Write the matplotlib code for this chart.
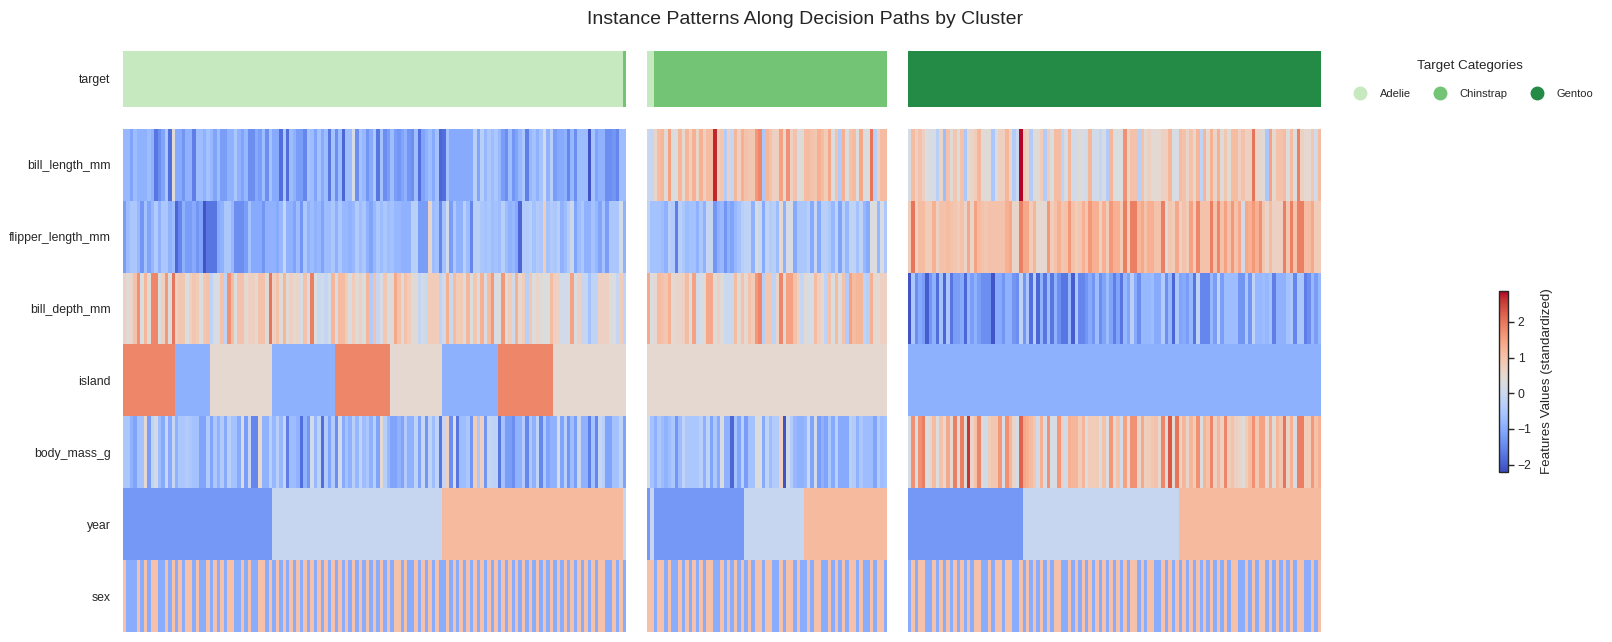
import matplotlib
matplotlib.use("Agg")
import numpy as np
import matplotlib.pyplot as plt
from matplotlib.colors import ListedColormap, Normalize
from matplotlib.cm import ScalarMappable
from matplotlib.lines import Line2D

plt.rcParams['font.family'] = ['Liberation Sans', 'DejaVu Sans']
plt.rcParams['text.color'] = '#262626'
plt.rcParams['axes.labelcolor'] = '#262626'
plt.rcParams['xtick.color'] = '#262626'
plt.rcParams['ytick.color'] = '#262626'

features = ['bill_length_mm', 'flipper_length_mm', 'bill_depth_mm', 'island',
            'body_mass_g', 'year', 'sex']
target_names = ['Adelie', 'Chinstrap', 'Gentoo']
target_colors = ['#c7e9c0', '#74c476', '#238b45']

# cluster 1
bill_length_c1 = [
    -.8, -.8, -1.1, -.7, -.9, -.9, -.9, -.7, -.9, -1.7,
    -1.4, -1.1, -.5, -1.8, .4, -1.0, -1.0, -1.3, -.9, -.9,
    -1.6, -.7, -.7, -.9, -.6, -.8, -1.1, -.7, -1.2, -1.2,
    -.9, -.9, -.5, -.9, -1.1, -.8, -1.4, -1.4, -1.0, -1.2,
    -.7, -1.4, -.6, -1.0, -1.0, -1.8, -.5, -1.8, -.7, -.9,
    -1.2, -1.2, -1.5, -.6, -.7, -1.1, -.6, -1.0, -.7, -1.7,
    -.6, -1.4, -.7, -1.9, -.7, -.7, .2, -1.4, -.6, -.8,
    -1.3, -1.0, -.5, -1.7, -.6, -1.4, -1.2, -.7, -1.2, -1.3,
    -1.1, -.9, -1.3, -1.4, -.7, -1.8, -1.1, -.9, -.7, -1.0,
    -.6, -1.9, -1.8, -.6, -1.0, -1.0, -1.0, -1.0, -1.0, -1.0,
    -1.0, -.3, -1.1, -.3, -.8, -.5, -.7, -.5, -.8, -1.2,
    -1.4, -.7, -1.3, -1.1, -.8, -.5, -1.6, -.8, -.6, -.9,
    -.6, .1, -.9, -.3, -1.2, -1.0, -1.0, -.9, -1.5, -.8,
    -1.4, -.7, -.7, -.7, -2.1, -.6, -1.1, -.9, -.9, -1.4,
    -1.4, -1.3, -1.5, -.7, -.7]
flipper_c1 = [
    -1.2, -.7, -.5, -.5, -.8, -1.3, -.6, -1.1, -.8, -.4,
    -.9, -.5, -.5, -.9, -.7, -1.9, -1.5, -.9, -1.2, -1.2,
    -1.0, -1.3, -1.1, -2.1, -1.7, -1.7, -1.7, -1.0, -.9, -.5,
    -.5, -.8, -1.4, -1.4, -1.4, -1.2, -.6, -1.0, -1.0, -1.0,
    -1.3, -.9, -.9, -.9, -1.0, -.8, -.1, -.9, -.9, -1.1,
    -.7, -1.3, -.5, -.9, -.7, -.9, -.8, -1.1, -.7, -.7,
    -.5, -.9, -.5, -.8, -.8, -.9, -.8, -.4, -.7, -.5,
    -.9, -1.1, -.8, -.5, -.7, -.5, -.7, -.6, -.8, -.8,
    -.9, -.9, -.9, -.3, -.3, -1.2, -1.2, -1.2, .6, -.7,
    -.6, -1.5, -.6, .1, -1.2, -.5, -.9, -.9, -.3, -.7,
    -1.5, -.3, -.3, -.5, -.6, -.5, -.7, -.6, -.7, -.3,
    -.7, -.9, -.8, -1.0, -1.9, -.4, -.4, -.3, -.6, -.4,
    -.5, .8, -.6, -.4, -.5, -.3, -.9, -.7, -.4, 0,
    -1.1, -.7, -.5, -.9, -.9, -.6, -.8, -1.1, -.6, -1.2,
    -.5, -.5, -.5, .1, -.9]
bill_depth_c1 = [
    .7, .4, .6, 1.0, 1.7, .3, 1.2, .4, 1.8, 1.8,
    .3, .7, 1.6, .3, 2.0, .7, .9, .9, .3, .7,
    .9, .8, .3, .9, 1.0, -.2, .2, .2, 1.0, -.2,
    1.7, 1.1, .3, 1.0, 1.0, .5, .7, .7, .5, 1.0,
    1.0, .4, 2.0, .7, 1.0, .4, 1.2, .4, .7, .5,
    .6, .2, 1.0, .2, 1.9, .3, .0, .1, -.1, .1,
    1.2, .2, 1.1, 1.1, .8, .3, .8, .4, .7, .3,
    1.2, -.4, 1.0, -.1, .2, .9, .2, .4, 1.4, 1.0,
    .4, 1.0, .8, .4, .4, -.1, .1, 0, .8, .8,
    .8, -.2, .1, 1.3, 0, 1.1, .8, .8, .3, 1.2,
    .3, .9, .2, 1.3, .2, 1.1, 1.6, .2, .3, 1.6,
    .3, .8, .1, 1.3, .5, .8, -.3, .9, .3, .6,
    .4, .3, .3, 1.1, .7, .7, .1, .1, .1, 1.5,
    .2, .7, -.1, -.1, -.6, -.2, -.2, .7, .7, .7,
    .3, .3, -.1, .8, -.2]
body_mass_c1 = [
    -.5, -.5, -.9, -1.1, -.6, -.6, .5, -1.2, -.2, .1,
    -.7, -1.0, -.1, -1.0, -.1, -.9, -.5, -.5, -.4, -.5,
    -.6, -.6, -1.1, -1.1, -.4, -1.1, -.5, -.9, -.4, -1.0,
    -.3, -.6, -.6, -1.0, .2, -1.2, -.1, -1.5, -1.5, .5,
    -.9, -.9, -.3, -.8, -.3, -.8, -.1, -1.6, -.7, -.7,
    -.9, -1.8, -.9, -1.3, .1, -.8, -.2, -1.8, -.4, -1.1,
    -.4, -1.4, .1, -1.0, -.6, -.9, -.3, -.8, -.2, -.7,
    -.5, -.9, -.3, -1.1, .5, -.3, -.8, -1.1, -1.1, -.9,
    -1.1, -.4, -.9, -.9, -.2, -1.1, -.1, -1.3, -.2, -.7,
    -.2, -1.7, -.1, .7, -1.4, .3, -1.7, -.7, -.7, -.5,
    -1.3, .8, -.5, .7, -1.3, -.1, -.2, -.2, -1.7, -.6,
    -1.2, -1.2, -1.4, -.9, -.9, -.4, -1.5, -.5, -.9, -.2,
    -1.5, -.5, -1.1, -.9, -.9, .2, -1.1, -.3, -1.3, -.7,
    -1.2, .0, -.9, -.9, -1.6, -.6, -1.5, -.1, -.3, -1.1,
    -1.1, -.6, -.6, -.2, -1.1]

# cluster 2
bill_length_c2 = [
    .0, -.1, .6, 1.1, 1.2, .4, 1.5, .3, .3, 1.2,
    .5, 1.2, .7, 1.3, .6, 1.3, .7, 1.1, 1.1, 2.7,
    .8, .9, -.4, .7, -.1, 1.2, .7, 1.3, 1.0, .9,
    .9, 1.6, 1.8, -.5, 1.2, 1.0, .7, .7, 1.5, .5,
    1.7, .7, 1.0, .2, .4, 1.1, 1.1, 1.0, .9, 1.3,
    1.1, .8, 1.4, .3, 1.0, -.4, 1.3, .3, 1.0, 1.1,
    .3, 1.4, .3, .3, 2.0, -.3, .7, 1.1, 1.1]
flipper_c2 = [
    -.2, -.6, -.6, -.6, -.7, -.9, -.3, -.4, -1.6, -.3,
    -.5, -.7, -.6, -.6, -.9, -.5, -.9, -.1, -.1, -1.3,
    -.9, -.8, -1.3, -.9, -1.1, -.8, -.6, -.3, -.2, -.2,
    -.9, .2, 0, -1.0, -.2, -.4, -.3, -.7, .5, -.9,
    .2, .2, -1.0, -.5, -.5, -.5, -.3, -1.0, -.1, -1.0,
    -.3, -.3, -.5, -.8, -.2, -1.1, -.3, -.8, -.2, -.2,
    -.6, -.2, -.8, -1.0, .3, .3, -.8, .2, -.5]
bill_depth_c2 = [
    1.4, .3, .5, 1.1, 1.0, .9, 1.3, .5, .6, .6,
    .7, 1.1, .3, 1.5, .1, .2, .5, 1.4, 1.4, .4,
    .7, .4, 0, 0, .0, 1.1, .4, 1.0, .5, 1.0,
    .8, 1.6, 1.8, -.3, .9, .9, -.2, .6, 1.8, .4,
    1.5, 1.5, 1.0, .7, -.1, .4, .2, .2, 1.1, .7,
    .5, -.2, 1.0, .3, 1.1, .3, 1.0, -.4, 1.5, 1.1,
    1.2, 1.2, -.2, -.3, 1.3, .5, .5, .7, .7]
body_mass_c2 = [
    .2, -.6, -.9, -.5, -.7, -.9, -.7, -.5, -1.3, -.7,
    -.2, -.5, -.5, -.5, -.5, -.3, -.9, -.2, -1.1, -.5,
    -1.0, .2, -.9, -.9, -1.9, -.6, -1.1, -.3, -1.2, -.6,
    -.6, .3, .3, -1.0, -.2, -.7, -.4, -.4, .7, -2.1,
    .1, -.4, -.8, -.9, -.9, -.8, .0, -1.1, .1, -1.2,
    -.9, -1.1, -.5, -1.0, -.3, -1.0, -1.0, -1.0, -.3, -.4,
    -.9, -.5, -.7, -.7, -.7, -1.1, -.4, -.7, -.6]

# cluster 3
bill_length_c3 = [
    .2, 1.1, .7, 1.0, .7, .3, .2, .2, -.3, .6,
    -.7, 1.0, .4, .9, .3, 1.0, -.5, .5, .6, .8,
    1.2, .4, .4, .4, -.5, .2, .7, .7, 1.2, .6,
    -.4, 0, 2.87, .8, .7, -.4, .4, .4, .8, -.4,
    .8, .3, 1.1, 1.1, -.2, .2, 1.2, .1, .1, .4,
    .2, .1, 1.2, .1, .1, -.1, .2, -.4, 1.2, .3,
    .3, .3, 1.7, .6, 1.0, 1.0, -.3, 1.0, .5, .7,
    .4, .5, .5, .7, .7, 1.2, .2, .2, 1.1, 1.0,
    .6, 1.0, .5, 1.2, -.2, 1.2, .5, 1.3, .6, 1.3,
    .4, .9, .4, 1.1, 1.1, .7, 1.0, .7, .7, 2.0,
    .6, .6, .4, -.5, 1.5, .5, 1.0, 1.0, 1.1, .3,
    1.1, .3, 1.9, .7, .5, .5, .9, .1, 1.1]
flipper_c3 = [
    .8, 2.0, .7, 1.1, 1.1, .8, .8, 1.3, .7, 1.0,
    1.0, 1.1, 1.0, .9, .8, 1.0, .6, 1.4, .6, 1.5,
    1.1, 1.0, .9, 1.0, 1.0, 1.0, 1.0, 1.0, 1.3, 1.4,
    .6, .6, 1.9, 1.4, 1.4, .8, 1.2, .5, .5, .5,
    1.6, .8, 1.0, 1.3, .9, 1.0, 1.6, 1.0, .8, .9,
    1.3, .9, 1.6, 1.3, 1.3, .7, 1.3, .8, 1.6, 1.3,
    1.3, .8, 1.9, .8, 1.9, 1.9, 1.2, 1.4, 1.0, 1.3,
    1.3, 1.0, 1.0, 1.9, .4, .9, .8, 1.4, .7, 1.0,
    .8, 1.5, .8, 1.8, 1.0, 1.0, 1.0, 1.9, 1.0, 1.8,
    1.0, 1.5, 1.0, 1.6, 1.0, 1.4, .1, 1.4, 1.3, 1.6,
    1.3, 1.7, .9, .6, 1.1, .7, .7, .7, 1.9, .9,
    1.9, 1.0, 1.9, 1.9, 1.1, 1.1, 1.4, .8, .8]
bill_depth_c3 = [
    -2.1, -.5, -1.4, -1.0, -1.2, -2.0, -1.3, -.9, -1.8, -.6,
    -1.9, -.5, -1.7, -1.2, -1.2, -1.0, -1.9, -.8, -1.2, -.9,
    -1.2, -1.4, -1.4, -1.4, -2.1, -1.0, -1.0, -1.3, -.9, -.9,
    -1.3, -1.4, -.2, -1.3, -.5, -1.8, -.3, -1.9, -.9, -1.7,
    -.7, -1.7, -.9, -1.4, -1.7, -1.7, -.8, -2.0, -.5, -1.5,
    -1.5, -1.3, -1.0, -1.3, -.7, -1.4, -1.1, -.7, -1.1, -1.6,
    -1.1, -1.7, -.8, -1.1, -.3, -1.0, -1.4, -.8, -.8, -.8,
    -.7, -1.0, -1.0, -.4, -1.4, -.8, -1.9, -.5, -1.1, -1.0,
    -1.2, -.8, -1.7, -.2, -1.5, -1.5, -1.5, -.8, -1.2, -.2,
    -1.2, -.7, -.7, -.7, -.7, -1.3, -1.3, -.5, -1.3, -.2,
    -.8, -.8, -.7, -.8, -.6, -1.6, -.9, -.9, -.9, -.6,
    -.5, -1.5, -.5, -.5, -1.6, -1.4, -.8, -1.2, -.8]
body_mass_c3 = [
    .2, 1.7, .2, 1.7, 1.9, .3, .6, 1.1, .3, 1.0,
    .5, 1.4, .5, 1.9, .3, 1.9, .4, 2.6, .6, 1.0,
    1.8, .4, .1, .8, .9, .9, 1.6, .2, 1.7, 1.2,
    .6, .2, 2.2, 1.4, 1.3, 1.1, .9, .1, 1.3, .2,
    1.7, .2, .2, 1.6, .7, .1, 1.3, 1.2, 1.2, .8,
    1.2, .3, .8, .8, .8, .3, 1.0, .3, 1.6, .4,
    1.0, .1, 1.5, .5, 1.7, 1.7, .6, 1.4, .7, .8,
    .9, 1.0, .5, 1.8, .3, 2.3, .5, 2.0, .7, 1.2,
    .6, 1.2, .8, 1.7, .3, 1.2, 1.0, 1.8, .7, 1.2,
    .7, 1.8, .8, 1.0, .7, .6, .4, .8, 1.1, 1.7,
    .9, 1.5, 1.5, .5, 1.4, .4, 1.2, .9, 2.0, .6,
    1.3, .2, 1.9, 1.9, .8, .8, 1.6, 1.0, 1.3]

# standardized level of each category, and run lengths in instance order
biscoe, dream, torgersen = -.91, .49, 1.83
y2007, y2008, y2009 = -1.26, -.05, 1.14
female, male = -.99, 1.01

island_c1 = [torgersen]*15 + [biscoe]*10 + [dream]*18 + [biscoe]*18 + [torgersen]*16 \
    + [dream]*15 + [biscoe]*16 + [torgersen]*16 + [dream]*21
island_c2 = [dream]*69
island_c3 = [biscoe]*119

year_c1 = [y2007]*43 + [y2008]*49 + [y2009]*52 + [y2008]*1
year_c2 = [y2007]*1 + [y2008]*1 + [y2007]*26 + [y2008]*17 + [y2009]*24
year_c3 = [y2007]*33 + [y2008]*45 + [y2009]*41

sex_runs_c1 = [1, 3, 1, 1, 1, 1, 2, 2, 1, 1, 1, 1, 1, 1, 2, 1, 1, 2, 1, 1, 1, 1, 1, 1, 2, 2,
               1, 1, 1, 2, 2, 1, 1] + [1]*31 + [1, 1, 1, 1, 2, 1, 1, 2] + [1]*7 + [2] \
    + [1]*44 + [2, 2, 1, 1, 1, 1]
sex_runs_c2 = [2, 1, 2, 1, 1, 2, 1, 1, 1, 1, 1, 1, 1, 1, 2, 2, 1, 1, 1, 1, 1, 1, 1, 1, 1, 1,
               2, 1, 2, 2, 1, 1, 2, 1, 1, 2, 1, 1, 2, 2, 1, 1, 1, 1, 1, 1, 2, 1, 1, 2, 1, 1, 2, 1]
sex_runs_c3 = [1, 1, 1, 2, 2] + [1]*12 + [2, 2, 1, 1, 2, 1, 2, 2] + [1]*10 + [2, 2] + [1]*18 \
    + [2, 1, 1, 1, 2, 2] + [1]*20 + [2, 2] + [1]*4 + [2] + [1]*9 + [2, 2, 1, 1, 1]

# target classes per cluster: 0 Adelie, 1 Chinstrap, 2 Gentoo
target_c1 = [0]*144 + [1]*1
target_c2 = [0]*2 + [1]*67
target_c3 = [2]*119


def sex_values(runs, first):
    # runs alternate between the two sexes
    out = []
    cur = first
    for n in runs:
        out += [cur]*n
        cur = female if cur == male else male
    return out


clusters = [
    (target_c1, [bill_length_c1, flipper_c1, bill_depth_c1, island_c1, body_mass_c1, year_c1,
                 sex_values(sex_runs_c1, male)]),
    (target_c2, [bill_length_c2, flipper_c2, bill_depth_c2, island_c2, body_mass_c2, year_c2,
                 sex_values(sex_runs_c2, male)]),
    (target_c3, [bill_length_c3, flipper_c3, bill_depth_c3, island_c3, body_mass_c3, year_c3,
                 sex_values(sex_runs_c3, female)]),
]

W, H = 1612, 642
vmin, vmax = -2.21, 2.87
fig = plt.figure(figsize=(W/100, H/100), dpi=100)


def px_axes(x0, y0, x1, y1):
    # axes from pixel edges, y counted from the top
    return fig.add_axes([x0/W, 1 - y1/H, (x1 - x0)/W, (y1 - y0)/H])


panel_x = [(123, 626), (647, 887), (908, 1321)]
target_cmap = ListedColormap(target_colors)

for i, ((x0, x1), (target, rows)) in enumerate(zip(panel_x, clusters)):
    ax_t = px_axes(x0, 51, x1, 107)
    ax_t.imshow(np.array(target)[None, :], aspect='auto', cmap=target_cmap, vmin=0, vmax=2,
                interpolation='nearest')
    ax_t.set_xticks([])
    ax_t.set_yticks([])
    for s in ax_t.spines.values():
        s.set_visible(False)

    ax = px_axes(x0, 129, x1, 632)
    data = np.array(rows, dtype=float)
    ax.imshow(data, aspect='auto', cmap='coolwarm', vmin=vmin, vmax=vmax, interpolation='nearest')
    ax.set_xticks([])
    for s in ax.spines.values():
        s.set_visible(False)
    if i == 0:
        ax_t.set_yticks([0])
        ax_t.set_yticklabels(['target'], fontsize=8.8)
        ax_t.tick_params(axis='y', length=0, pad=9)
        ax.set_yticks(range(len(features)))
        ax.set_yticklabels(features, fontsize=8.8)
        ax.tick_params(axis='y', length=0, pad=9)
    else:
        ax.set_yticks([])

fig.suptitle('Instance Patterns Along Decision Paths by Cluster', fontsize=14, x=805/W, y=1 - 20/H,
             va='center')

# colorbar
cax = px_axes(1499, 291, 1508, 472)
cb = fig.colorbar(ScalarMappable(norm=Normalize(vmin, vmax), cmap='coolwarm'), cax=cax)
cb.set_ticks([-2, -1, 0, 1, 2])
cb.ax.tick_params(labelsize=8.8, length=4, width=1, pad=3)
cb.set_label('Features Values (standardized)', fontsize=9.6, labelpad=7)
cb.outline.set_linewidth(1)
cb.outline.set_edgecolor('#262626')

# legend for target classes
fig.text(1470/W, 1 - 66/H, 'Target Categories', fontsize=9.6, ha='center', va='center')
handles = [Line2D([], [], marker='o', linestyle='none', color=c, markersize=9) for c in target_colors]
fig.legend(handles, target_names, ncol=3, frameon=False, loc='center',
           bbox_to_anchor=(1471/W, 1 - 94/H), fontsize=8, columnspacing=1.6, handletextpad=0.8)

fig.savefig('out.png', dpi=100)
